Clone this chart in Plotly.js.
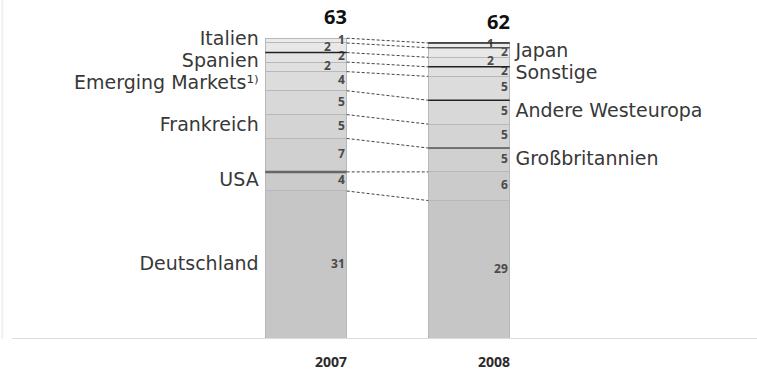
<!DOCTYPE html>
<html><head><meta charset="utf-8">
<script src="https://cdn.plot.ly/plotly-3.0.1.min.js"></script>
<style>html,body{margin:0;padding:0;background:#fff}#chart{width:757px;height:374px}</style>
</head><body><div id="chart"></div>
<script>
// ---- data (bottom to top of the stack) ----
const years = ['2007', '2008'];
const categories = ['Deutschland', 'USA', 'Großbritannien', 'Frankreich', 'Andere Westeuropa',
  'Emerging Markets¹⁾', 'Sonstige', 'Spanien', 'Japan', 'Italien'];
const values2007 = [31, 4, 7, 5, 5, 4, 2, 2, 2, 1];
const values2008 = [29, 6, 5, 5, 5, 5, 2, 2, 2, 1];
const totals = [63, 62];
// which categories are named beside the 2007 bar (the rest beside the 2008 bar)
const labelledLeft = ['Deutschland', 'USA', 'Frankreich', 'Emerging Markets¹⁾', 'Spanien', 'Italien'];

// ---- style ----
const fills = ['#c6c6c6', '#cbcbcb', '#d0d0d0', '#d4d4d4', '#d8d8d8', '#dcdcdc', '#e0e0e0', '#e4e4e4', '#e8e8e8', '#ebebeb'];
const emphasis = [ // boundary lines drawn darker: [year index, category whose top edge, colour, width]
  [0, 'Spanien', '#222', 1.5], [0, 'USA', '#666', 2.5],
  [1, 'Italien', '#222', 1.5], [1, 'Japan', '#555', 1.5], [1, 'Sonstige', '#222', 1.5],
  [1, 'Andere Westeuropa', '#222', 1.5], [1, 'Großbritannien', '#555', 1.5]
];
const BW = 0.5;
const YMAX = 71;
const PX_PER_UNIT = 339 / YMAX;
const labelFont = {family: 'DejaVu Sans', size: 19, color: '#383838'};
const numFont = {family: 'Open Sans', size: 12, color: '#4a4a4a', weight: 'bold'};

const series = [values2007, values2008];
function cum(vals) { const t = []; let s = 0; vals.forEach(v => { s += v; t.push(s); }); return t; }
const tops = series.map(cum);
const centers = series.map((vals, yi) => vals.map((v, i) => tops[yi][i] - v / 2));

const traces = [];
categories.forEach((c, i) => {
  traces.push({
    type: 'bar', x: [0, 1], y: [values2007[i], values2008[i]], width: BW,
    marker: {color: fills[i], line: {color: '#b8b8b8', width: 1}},
    hoverinfo: 'skip', showlegend: false
  });
});
// connecting dotted lines between segment tops
categories.forEach((c, i) => {
  traces.push({
    type: 'scatter', mode: 'lines', x: [BW / 2, 1 - BW / 2], y: [tops[0][i], tops[1][i]],
    line: {color: '#444', width: 1, dash: '3px,2px'}, hoverinfo: 'skip', showlegend: false
  });
});
// value labels inside segments: thin segments alternate between two columns so labels do not collide
const numGap = 16 / PX_PER_UNIT;
series.forEach((vals, yi) => {
  const last = [-Infinity, -Infinity];
  const cols = vals.map((v, i) => {
    const y = centers[yi][i];
    let col = 0;
    if (y - last[0] < numGap && y - last[1] >= numGap) col = 1;
    last[col] = y;
    return col;
  });
  [0, 1].forEach(col => {
    const idx = vals.map((v, i) => i).filter(i => cols[i] === col);
    traces.push({
      type: 'scatter', mode: 'text', x: idx.map(() => yi + BW / 2 - 0.012 - col * 0.085),
      y: idx.map(i => centers[yi][i]), text: idx.map(i => String(vals[i])),
      textposition: 'middle left', textfont: numFont, hoverinfo: 'skip', showlegend: false, cliponaxis: false
    });
  });
});
// category labels, nudged apart where segments are thin
const labGap = 22 / PX_PER_UNIT;
function spread(ys) { // ys sorted top to bottom
  const out = []; ys.forEach((y, k) => { out.push(k === 0 ? y : Math.min(y, out[k - 1] - labGap)); }); return out;
}
const left = categories.map((c, i) => i).filter(i => labelledLeft.includes(categories[i])).reverse();
const right = categories.map((c, i) => i).filter(i => !labelledLeft.includes(categories[i])).reverse();
traces.push({
  type: 'scatter', mode: 'text', x: left.map(() => -BW / 2 - 0.04),
  y: spread(left.map(i => centers[0][i])), text: left.map(i => categories[i]),
  textposition: 'middle left', textfont: labelFont, hoverinfo: 'skip', showlegend: false, cliponaxis: false
});
traces.push({
  type: 'scatter', mode: 'text', x: right.map(() => 1 + BW / 2 + 0.035),
  y: spread(right.map(i => centers[1][i])), text: right.map(i => categories[i]),
  textposition: 'middle right', textfont: labelFont, hoverinfo: 'skip', showlegend: false, cliponaxis: false
});

const shapes = [
  {type: 'line', xref: 'paper', yref: 'y', x0: 12 / 757, x1: 1, y0: 0, y1: 0, line: {color: '#dcdcdc', width: 2}},
  {type: 'line', xref: 'paper', yref: 'paper', x0: 0.003, x1: 0.003, y0: 0, y1: 1, line: {color: '#f0f0f0', width: 2}}
];
emphasis.forEach(([yi, c, col, w]) => {
  const k = categories.indexOf(c);
  shapes.push({type: 'line', xref: 'x', yref: 'y', x0: yi - BW / 2, x1: yi + BW / 2,
    y0: tops[yi][k], y1: tops[yi][k], line: {color: col, width: w}});
});

const annotations = [];
totals.forEach((t, yi) => annotations.push({
  x: yi + BW / 2, y: t, xref: 'x', yref: 'y', text: String(t), showarrow: false,
  xanchor: 'right', yanchor: 'bottom', yshift: 6, xshift: 2,
  font: {family: 'Open Sans', size: 20, color: '#111', weight: 'bold'}
}));
years.forEach((yr, yi) => annotations.push({
  x: yi + BW / 2, y: 0, xref: 'x', yref: 'paper', text: yr, showarrow: false,
  xanchor: 'right', yanchor: 'top', yshift: -11, xshift: 2,
  font: {family: 'Open Sans', size: 14, color: '#2a2a2a', weight: 'bold'}
}));

const layout = {
  width: 757, height: 374, margin: {l: 0, r: 0, t: 0, b: 35},
  paper_bgcolor: '#fff', plot_bgcolor: '#fff', barmode: 'stack', bargap: 0,
  xaxis: {range: [-1.877, 2.767], showticklabels: false, showgrid: false, zeroline: false,
    showline: false, ticks: '', fixedrange: true},
  yaxis: {range: [0, YMAX], visible: false, fixedrange: true},
  shapes: shapes, annotations: annotations
};
Plotly.newPlot('chart', traces, layout, {staticPlot: true});
</script></body></html>
